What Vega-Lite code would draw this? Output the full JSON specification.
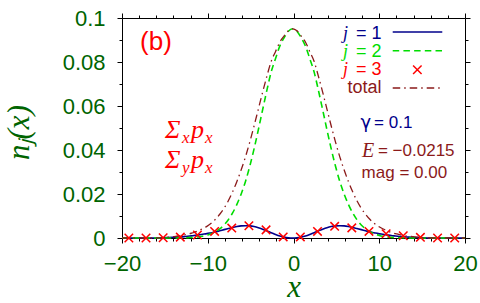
{
  "$schema": "https://vega.github.io/schema/vega-lite/v6.json",
  "autosize": {"type": "none"},
  "width": 343,
  "height": 220,
  "padding": {"left": 122, "top": 18, "right": 15, "bottom": 65},
  "background": "white",
  "config": {
    "view": {"stroke": null},
    "axis": {"grid": false, "domainColor": "black", "domainWidth": 1, "tickColor": "black", "tickWidth": 1, "labelFont": "Liberation Sans", "labelFontSize": 22, "labelColor": "#006400", "labelFlush": false, "labelOverlap": false}
  },
  "datasets": {
    "curves": [
      {"x": -20, "j1": 0, "j2": 0, "tot": 0},
      {"x": -16.1, "j1": 0, "j2": 0, "tot": 0},
      {"x": -15.6, "j1": 0.00005, "j2": 0, "tot": 0.0001},
      {"x": -15.1, "j1": 0.0001, "j2": 0, "tot": 0.0002},
      {"x": -14.6, "j1": 0.0002, "j2": 0, "tot": 0.0004},
      {"x": -14.1, "j1": 0.0003, "j2": 0, "tot": 0.0006},
      {"x": -13.6, "j1": 0.0004, "j2": 0, "tot": 0.0008},
      {"x": -13.1, "j1": 0.0005, "j2": 0.0001, "tot": 0.0011},
      {"x": -12.6, "j1": 0.0007, "j2": 0.0001, "tot": 0.0015},
      {"x": -12.1, "j1": 0.0009, "j2": 0.0002, "tot": 0.002},
      {"x": -11.6, "j1": 0.0011, "j2": 0.0003, "tot": 0.0025},
      {"x": -11.1, "j1": 0.0014, "j2": 0.0005, "tot": 0.0033},
      {"x": -10.6, "j1": 0.0017, "j2": 0.0008, "tot": 0.0042},
      {"x": -10.1, "j1": 0.002, "j2": 0.0013, "tot": 0.0053},
      {"x": -9.6, "j1": 0.0024, "j2": 0.0019, "tot": 0.0067},
      {"x": -9.1, "j1": 0.0028, "j2": 0.0029, "tot": 0.0085},
      {"x": -8.6, "j1": 0.0033, "j2": 0.0042, "tot": 0.0108},
      {"x": -8.1, "j1": 0.0038, "j2": 0.0059, "tot": 0.0135},
      {"x": -7.6, "j1": 0.0043, "j2": 0.0083, "tot": 0.0169},
      {"x": -7.1, "j1": 0.0048, "j2": 0.0114, "tot": 0.021},
      {"x": -6.6, "j1": 0.0052, "j2": 0.0153, "tot": 0.0257},
      {"x": -6.1, "j1": 0.0055, "j2": 0.02, "tot": 0.031},
      {"x": -5.6, "j1": 0.0056, "j2": 0.0257, "tot": 0.0369},
      {"x": -5.1, "j1": 0.0055, "j2": 0.0326, "tot": 0.0436},
      {"x": -4.6, "j1": 0.0052, "j2": 0.0405, "tot": 0.0509},
      {"x": -4.1, "j1": 0.0047, "j2": 0.0492, "tot": 0.0586},
      {"x": -3.6, "j1": 0.004, "j2": 0.0583, "tot": 0.0663},
      {"x": -3.1, "j1": 0.0032, "j2": 0.0672, "tot": 0.0736},
      {"x": -2.6, "j1": 0.0024, "j2": 0.0755, "tot": 0.0803},
      {"x": -2.1, "j1": 0.0016, "j2": 0.0815, "tot": 0.0847},
      {"x": -1.6, "j1": 0.0009, "j2": 0.0872, "tot": 0.089},
      {"x": -1.1, "j1": 0.0004, "j2": 0.091, "tot": 0.0918},
      {"x": -0.6, "j1": 0.0001, "j2": 0.094, "tot": 0.0942},
      {"x": -0.1, "j1": 0, "j2": 0.0951, "tot": 0.0951},
      {"x": 0.4, "j1": 0.0001, "j2": 0.094, "tot": 0.0942},
      {"x": 0.9, "j1": 0.0004, "j2": 0.091, "tot": 0.0918},
      {"x": 1.4, "j1": 0.0009, "j2": 0.0872, "tot": 0.089},
      {"x": 1.9, "j1": 0.0016, "j2": 0.0815, "tot": 0.0847},
      {"x": 2.4, "j1": 0.0024, "j2": 0.0755, "tot": 0.0803},
      {"x": 2.9, "j1": 0.0032, "j2": 0.0672, "tot": 0.0736},
      {"x": 3.4, "j1": 0.004, "j2": 0.0583, "tot": 0.0663},
      {"x": 3.9, "j1": 0.0047, "j2": 0.0492, "tot": 0.0586},
      {"x": 4.4, "j1": 0.0052, "j2": 0.0405, "tot": 0.0509},
      {"x": 4.9, "j1": 0.0055, "j2": 0.0326, "tot": 0.0436},
      {"x": 5.4, "j1": 0.0056, "j2": 0.0257, "tot": 0.0369},
      {"x": 5.9, "j1": 0.0055, "j2": 0.02, "tot": 0.031},
      {"x": 6.4, "j1": 0.0052, "j2": 0.0153, "tot": 0.0257},
      {"x": 6.9, "j1": 0.0048, "j2": 0.0114, "tot": 0.021},
      {"x": 7.4, "j1": 0.0043, "j2": 0.0083, "tot": 0.0169},
      {"x": 7.9, "j1": 0.0038, "j2": 0.0059, "tot": 0.0135},
      {"x": 8.4, "j1": 0.0033, "j2": 0.0042, "tot": 0.0108},
      {"x": 8.9, "j1": 0.0028, "j2": 0.0029, "tot": 0.0085},
      {"x": 9.4, "j1": 0.0024, "j2": 0.0019, "tot": 0.0067},
      {"x": 9.9, "j1": 0.002, "j2": 0.0013, "tot": 0.0053},
      {"x": 10.4, "j1": 0.0017, "j2": 0.0008, "tot": 0.0042},
      {"x": 10.9, "j1": 0.0014, "j2": 0.0005, "tot": 0.0033},
      {"x": 11.4, "j1": 0.0011, "j2": 0.0003, "tot": 0.0025},
      {"x": 11.9, "j1": 0.0009, "j2": 0.0002, "tot": 0.002},
      {"x": 12.4, "j1": 0.0007, "j2": 0.0001, "tot": 0.0015},
      {"x": 12.9, "j1": 0.0005, "j2": 0.0001, "tot": 0.0011},
      {"x": 13.4, "j1": 0.0004, "j2": 0, "tot": 0.0008},
      {"x": 13.9, "j1": 0.0003, "j2": 0, "tot": 0.0006},
      {"x": 14.4, "j1": 0.0002, "j2": 0, "tot": 0.0004},
      {"x": 14.9, "j1": 0.0001, "j2": 0, "tot": 0.0002},
      {"x": 15.4, "j1": 0.00005, "j2": 0, "tot": 0.0001},
      {"x": 15.9, "j1": 0, "j2": 0, "tot": 0},
      {"x": 20, "j1": 0, "j2": 0, "tot": 0}
    ],
    "crosses": [
      {"x": -19.2, "n": 0}, {"x": -17.2, "n": 0}, {"x": -15.2, "n": 0.0001}, {"x": -13.2, "n": 0.0004},
      {"x": -11.2, "n": 0.0014}, {"x": -9.2, "n": 0.003}, {"x": -7.2, "n": 0.0045}, {"x": -5.2, "n": 0.0056},
      {"x": -3.2, "n": 0.0037}, {"x": -1.2, "n": 0.0005}, {"x": 0.8, "n": 0.0005}, {"x": 2.8, "n": 0.003},
      {"x": 4.8, "n": 0.0053}, {"x": 6.8, "n": 0.0046}, {"x": 8.8, "n": 0.003}, {"x": 10.8, "n": 0.0019},
      {"x": 12.8, "n": 0.001}, {"x": 14.8, "n": 0.0003}, {"x": 16.8, "n": 0}, {"x": 18.8, "n": 0}
    ]
  },
  "layer": [
    {
      "data": {"name": "curves"},
      "mark": {"type": "line", "color": "#00008b", "strokeWidth": 1.6, "interpolate": "monotone"},
      "encoding": {
        "x": {"field": "x", "type": "quantitative", "scale": {"domain": [-20, 20], "nice": false, "zero": false},
          "axis": {"orient": "bottom", "values": [-20,-18,-16,-14,-12,-10,-8,-6,-4,-2,0,2,4,6,8,10,12,14,16,18,20],
            "labelExpr": "datum.value % 10 === 0 ? datum.label : ''",
            "tickDash": {"condition": {"test": "datum.value % 10 === 0", "value": [10, 0]}, "value": [3, 20]},
            "tickSize": 5, "labelPadding": 10,
            "title": "x", "titleFont": "Liberation Serif", "titleFontStyle": "italic", "titleFontWeight": "normal", "titleFontSize": 31, "titleColor": "#006400",
            "titleX": 171.5, "titleY": 58.5, "titleBaseline": "alphabetic", "titleAlign": "center"}},
        "y": {"field": "j1", "type": "quantitative", "scale": {"domain": [0, 0.1], "nice": false, "zero": false},
          "axis": {"orient": "left", "values": [0,0.01,0.02,0.03,0.04,0.05,0.06,0.07,0.08,0.09,0.1], "format": ".2~f",
            "labelExpr": "round(datum.value*100) % 2 === 0 ? datum.label : ''",
            "tickDash": {"condition": {"test": "round(datum.value*100) % 2 === 0", "value": [10, 0]}, "value": [3, 20]},
            "tickSize": 5, "labelPadding": 12,
            "title": "nⱼ(x)", "titleFont": "Liberation Serif", "titleFontStyle": "italic", "titleFontWeight": "normal", "titleFontSize": 31, "titleColor": "#006400",
            "titleAngle": -90, "titleX": -94, "titleY": 114, "titleBaseline": "alphabetic", "titleAlign": "center"}}
      }
    },
    {
      "data": {"name": "curves"},
      "mark": {"type": "line", "color": "#00dd00", "strokeWidth": 1.6, "strokeDash": [6.5, 4.2], "interpolate": "monotone"},
      "encoding": {
        "x": {"field": "x", "type": "quantitative", "scale": {"domain": [-20, 20], "nice": false, "zero": false},
          "axis": {"orient": "top", "values": [-20,-18,-16,-14,-12,-10,-8,-6,-4,-2,0,2,4,6,8,10,12,14,16,18,20], "labels": false,
            "tickDash": {"condition": {"test": "datum.value % 10 === 0", "value": [10, 0]}, "value": [3, 20]},
            "tickSize": 5, "title": null}},
        "y": {"field": "j2", "type": "quantitative", "scale": {"domain": [0, 0.1], "nice": false, "zero": false},
          "axis": {"orient": "right", "values": [0,0.01,0.02,0.03,0.04,0.05,0.06,0.07,0.08,0.09,0.1], "labels": false,
            "tickDash": {"condition": {"test": "round(datum.value*100) % 2 === 0", "value": [10, 0]}, "value": [3, 20]},
            "tickSize": 5, "title": null}}
      }
    },
    {
      "data": {"name": "curves"},
      "mark": {"type": "line", "color": "#8b1a1a", "strokeWidth": 1.3, "strokeDash": [7.5, 4, 1.5, 4], "interpolate": "monotone"},
      "encoding": {
        "x": {"field": "x", "type": "quantitative", "scale": {"domain": [-20, 20], "nice": false, "zero": false}, "axis": null},
        "y": {"field": "tot", "type": "quantitative", "scale": {"domain": [0, 0.1], "nice": false, "zero": false}, "axis": null}
      }
    },
    {
      "data": {"name": "crosses"},
      "mark": {"type": "point", "shape": "M-1,-1L1,1M-1,1L1,-1", "filled": false, "color": "#ff0000", "strokeWidth": 1.5, "size": 72, "opacity": 1},
      "encoding": {
        "x": {"field": "x", "type": "quantitative", "scale": {"domain": [-20, 20], "nice": false, "zero": false}, "axis": null},
        "y": {"field": "n", "type": "quantitative", "scale": {"domain": [0, 0.1], "nice": false, "zero": false}, "axis": null}
      }
    },
    {
      "data": {"values": [{}]},
      "mark": {"type": "rule", "color": "#00008b", "strokeWidth": 1.6},
      "encoding": {
        "x": {"datum": 11.57, "type": "quantitative", "scale": {"domain": [-20, 20], "nice": false, "zero": false}, "axis": null},
        "x2": {"datum": 17.35},
        "y": {"datum": 0.09364, "type": "quantitative", "scale": {"domain": [0, 0.1], "nice": false, "zero": false}, "axis": null}
      }
    },
    {
      "data": {"values": [{}]},
      "mark": {"type": "rule", "color": "#00dd00", "strokeWidth": 1.6, "strokeDash": [6.5, 4.2]},
      "encoding": {
        "x": {"datum": 11.57, "type": "quantitative", "scale": {"domain": [-20, 20], "nice": false, "zero": false}, "axis": null},
        "x2": {"datum": 17.35},
        "y": {"datum": 0.08514, "type": "quantitative", "scale": {"domain": [0, 0.1], "nice": false, "zero": false}, "axis": null}
      }
    },
    {
      "data": {"values": [{}]},
      "mark": {"type": "point", "shape": "M-1,-1L1,1M-1,1L1,-1", "filled": false, "color": "#ff0000", "strokeWidth": 1.5, "size": 72, "opacity": 1},
      "encoding": {
        "x": {"datum": 14.44, "type": "quantitative", "scale": {"domain": [-20, 20], "nice": false, "zero": false}, "axis": null},
        "y": {"datum": 0.0765, "type": "quantitative", "scale": {"domain": [0, 0.1], "nice": false, "zero": false}, "axis": null}
      }
    },
    {
      "data": {"values": [{}]},
      "mark": {"type": "rule", "color": "#8b1a1a", "strokeWidth": 1.3, "strokeDash": [7.5, 4, 1.5, 4]},
      "encoding": {
        "x": {"datum": 11.57, "type": "quantitative", "scale": {"domain": [-20, 20], "nice": false, "zero": false}, "axis": null},
        "x2": {"datum": 17.35},
        "y": {"datum": 0.06818, "type": "quantitative", "scale": {"domain": [0, 0.1], "nice": false, "zero": false}, "axis": null}
      }
    },
    {
      "data": {"values": [{}]},
      "mark": {"type": "text", "text": "(b)", "font": "Liberation Sans", "fontSize": 26, "color": "#ff0000", "align": "left", "baseline": "middle"},
      "encoding": {
        "x": {"datum": -17.9, "type": "quantitative", "scale": {"domain": [-20, 20], "nice": false, "zero": false}, "axis": null},
        "y": {"datum": 0.0892, "type": "quantitative", "scale": {"domain": [0, 0.1], "nice": false, "zero": false}, "axis": null}
      }
    },
    {
      "data": {"values": [{}]},
      "mark": {"type": "text", "text": "Σ", "font": "Liberation Serif", "fontStyle": "italic", "fontSize": 26, "color": "#ff0000", "align": "left", "baseline": "alphabetic"},
      "encoding": {
        "x": {"datum": -14.99, "type": "quantitative", "scale": {"domain": [-20, 20], "nice": false, "zero": false}, "axis": null},
        "y": {"datum": 0.04545, "type": "quantitative", "scale": {"domain": [0, 0.1], "nice": false, "zero": false}, "axis": null}
      }
    },
    {
      "data": {"values": [{}]},
      "mark": {"type": "text", "text": "x", "font": "Liberation Serif", "fontStyle": "italic", "fontSize": 17, "color": "#ff0000", "align": "left", "baseline": "alphabetic"},
      "encoding": {
        "x": {"datum": -13.0, "type": "quantitative", "scale": {"domain": [-20, 20], "nice": false, "zero": false}, "axis": null},
        "y": {"datum": 0.0431, "type": "quantitative", "scale": {"domain": [0, 0.1], "nice": false, "zero": false}, "axis": null}
      }
    },
    {
      "data": {"values": [{}]},
      "mark": {"type": "text", "text": "p", "font": "Liberation Serif", "fontStyle": "italic", "fontSize": 26, "color": "#ff0000", "align": "left", "baseline": "alphabetic"},
      "encoding": {
        "x": {"datum": -11.95, "type": "quantitative", "scale": {"domain": [-20, 20], "nice": false, "zero": false}, "axis": null},
        "y": {"datum": 0.04545, "type": "quantitative", "scale": {"domain": [0, 0.1], "nice": false, "zero": false}, "axis": null}
      }
    },
    {
      "data": {"values": [{}]},
      "mark": {"type": "text", "text": "x", "font": "Liberation Serif", "fontStyle": "italic", "fontSize": 17, "color": "#ff0000", "align": "left", "baseline": "alphabetic"},
      "encoding": {
        "x": {"datum": -10.32, "type": "quantitative", "scale": {"domain": [-20, 20], "nice": false, "zero": false}, "axis": null},
        "y": {"datum": 0.0431, "type": "quantitative", "scale": {"domain": [0, 0.1], "nice": false, "zero": false}, "axis": null}
      }
    },
    {
      "data": {"values": [{}]},
      "mark": {"type": "text", "text": "Σ", "font": "Liberation Serif", "fontStyle": "italic", "fontSize": 26, "color": "#ff0000", "align": "left", "baseline": "alphabetic"},
      "encoding": {
        "x": {"datum": -14.99, "type": "quantitative", "scale": {"domain": [-20, 20], "nice": false, "zero": false}, "axis": null},
        "y": {"datum": 0.0317, "type": "quantitative", "scale": {"domain": [0, 0.1], "nice": false, "zero": false}, "axis": null}
      }
    },
    {
      "data": {"values": [{}]},
      "mark": {"type": "text", "text": "y", "font": "Liberation Serif", "fontStyle": "italic", "fontSize": 17, "color": "#ff0000", "align": "left", "baseline": "alphabetic"},
      "encoding": {
        "x": {"datum": -13.0, "type": "quantitative", "scale": {"domain": [-20, 20], "nice": false, "zero": false}, "axis": null},
        "y": {"datum": 0.02945, "type": "quantitative", "scale": {"domain": [0, 0.1], "nice": false, "zero": false}, "axis": null}
      }
    },
    {
      "data": {"values": [{}]},
      "mark": {"type": "text", "text": "p", "font": "Liberation Serif", "fontStyle": "italic", "fontSize": 26, "color": "#ff0000", "align": "left", "baseline": "alphabetic"},
      "encoding": {
        "x": {"datum": -11.95, "type": "quantitative", "scale": {"domain": [-20, 20], "nice": false, "zero": false}, "axis": null},
        "y": {"datum": 0.0317, "type": "quantitative", "scale": {"domain": [0, 0.1], "nice": false, "zero": false}, "axis": null}
      }
    },
    {
      "data": {"values": [{}]},
      "mark": {"type": "text", "text": "x", "font": "Liberation Serif", "fontStyle": "italic", "fontSize": 17, "color": "#ff0000", "align": "left", "baseline": "alphabetic"},
      "encoding": {
        "x": {"datum": -10.32, "type": "quantitative", "scale": {"domain": [-20, 20], "nice": false, "zero": false}, "axis": null},
        "y": {"datum": 0.02945, "type": "quantitative", "scale": {"domain": [0, 0.1], "nice": false, "zero": false}, "axis": null}
      }
    },
    {
      "data": {"values": [{}]},
      "mark": {"type": "text", "text": "j", "font": "Liberation Serif", "fontStyle": "italic", "fontSize": 18, "color": "#00008b", "align": "left", "baseline": "middle"},
      "encoding": {
        "x": {"datum": 5.77, "type": "quantitative", "scale": {"domain": [-20, 20], "nice": false, "zero": false}, "axis": null},
        "y": {"datum": 0.0929, "type": "quantitative", "scale": {"domain": [0, 0.1], "nice": false, "zero": false}, "axis": null}
      }
    },
    {
      "data": {"values": [{}]},
      "mark": {"type": "text", "text": "= 1", "font": "Liberation Sans", "fontSize": 18, "color": "#00008b", "align": "right", "baseline": "middle"},
      "encoding": {
        "x": {"datum": 10.26, "type": "quantitative", "scale": {"domain": [-20, 20], "nice": false, "zero": false}, "axis": null},
        "y": {"datum": 0.0929, "type": "quantitative", "scale": {"domain": [0, 0.1], "nice": false, "zero": false}, "axis": null}
      }
    },
    {
      "data": {"values": [{}]},
      "mark": {"type": "text", "text": "j", "font": "Liberation Serif", "fontStyle": "italic", "fontSize": 18, "color": "#00dd00", "align": "left", "baseline": "middle"},
      "encoding": {
        "x": {"datum": 5.77, "type": "quantitative", "scale": {"domain": [-20, 20], "nice": false, "zero": false}, "axis": null},
        "y": {"datum": 0.08455, "type": "quantitative", "scale": {"domain": [0, 0.1], "nice": false, "zero": false}, "axis": null}
      }
    },
    {
      "data": {"values": [{}]},
      "mark": {"type": "text", "text": "= 2", "font": "Liberation Sans", "fontSize": 18, "color": "#00dd00", "align": "right", "baseline": "middle"},
      "encoding": {
        "x": {"datum": 10.26, "type": "quantitative", "scale": {"domain": [-20, 20], "nice": false, "zero": false}, "axis": null},
        "y": {"datum": 0.08455, "type": "quantitative", "scale": {"domain": [0, 0.1], "nice": false, "zero": false}, "axis": null}
      }
    },
    {
      "data": {"values": [{}]},
      "mark": {"type": "text", "text": "j", "font": "Liberation Serif", "fontStyle": "italic", "fontSize": 18, "color": "#ff0000", "align": "left", "baseline": "middle"},
      "encoding": {
        "x": {"datum": 5.77, "type": "quantitative", "scale": {"domain": [-20, 20], "nice": false, "zero": false}, "axis": null},
        "y": {"datum": 0.07618, "type": "quantitative", "scale": {"domain": [0, 0.1], "nice": false, "zero": false}, "axis": null}
      }
    },
    {
      "data": {"values": [{}]},
      "mark": {"type": "text", "text": "= 3", "font": "Liberation Sans", "fontSize": 18, "color": "#ff0000", "align": "right", "baseline": "middle"},
      "encoding": {
        "x": {"datum": 10.26, "type": "quantitative", "scale": {"domain": [-20, 20], "nice": false, "zero": false}, "axis": null},
        "y": {"datum": 0.07618, "type": "quantitative", "scale": {"domain": [0, 0.1], "nice": false, "zero": false}, "axis": null}
      }
    },
    {
      "data": {"values": [{}]},
      "mark": {"type": "text", "text": "total", "font": "Liberation Sans", "fontSize": 18, "color": "#8b1a1a", "align": "right", "baseline": "middle"},
      "encoding": {
        "x": {"datum": 10.26, "type": "quantitative", "scale": {"domain": [-20, 20], "nice": false, "zero": false}, "axis": null},
        "y": {"datum": 0.0682, "type": "quantitative", "scale": {"domain": [0, 0.1], "nice": false, "zero": false}, "axis": null}
      }
    },
    {
      "data": {"values": [{}]},
      "mark": {"type": "text", "text": "γ", "font": "DejaVu Sans", "fontSize": 18, "color": "#00008b", "align": "left", "baseline": "middle"},
      "encoding": {
        "x": {"datum": 7.81, "type": "quantitative", "scale": {"domain": [-20, 20], "nice": false, "zero": false}, "axis": null},
        "y": {"datum": 0.0524, "type": "quantitative", "scale": {"domain": [0, 0.1], "nice": false, "zero": false}, "axis": null}
      }
    },
    {
      "data": {"values": [{}]},
      "mark": {"type": "text", "text": "= 0.1", "font": "Liberation Sans", "fontSize": 17, "color": "#00008b", "align": "left", "baseline": "middle"},
      "encoding": {
        "x": {"datum": 9.4, "type": "quantitative", "scale": {"domain": [-20, 20], "nice": false, "zero": false}, "axis": null},
        "y": {"datum": 0.0524, "type": "quantitative", "scale": {"domain": [0, 0.1], "nice": false, "zero": false}, "axis": null}
      }
    },
    {
      "data": {"values": [{}]},
      "mark": {"type": "text", "text": "E", "font": "Liberation Serif", "fontStyle": "italic", "fontSize": 20, "color": "#8b1a1a", "align": "left", "baseline": "middle"},
      "encoding": {
        "x": {"datum": 7.99, "type": "quantitative", "scale": {"domain": [-20, 20], "nice": false, "zero": false}, "axis": null},
        "y": {"datum": 0.0397, "type": "quantitative", "scale": {"domain": [0, 0.1], "nice": false, "zero": false}, "axis": null}
      }
    },
    {
      "data": {"values": [{}]},
      "mark": {"type": "text", "text": "= −0.0215", "font": "Liberation Sans", "fontSize": 17, "color": "#8b1a1a", "align": "left", "baseline": "middle"},
      "encoding": {
        "x": {"datum": 9.85, "type": "quantitative", "scale": {"domain": [-20, 20], "nice": false, "zero": false}, "axis": null},
        "y": {"datum": 0.0397, "type": "quantitative", "scale": {"domain": [0, 0.1], "nice": false, "zero": false}, "axis": null}
      }
    },
    {
      "data": {"values": [{}]},
      "mark": {"type": "text", "text": "mag = 0.00", "font": "Liberation Sans", "fontSize": 17, "color": "#8b1a1a", "align": "left", "baseline": "middle"},
      "encoding": {
        "x": {"datum": 7.94, "type": "quantitative", "scale": {"domain": [-20, 20], "nice": false, "zero": false}, "axis": null},
        "y": {"datum": 0.02955, "type": "quantitative", "scale": {"domain": [0, 0.1], "nice": false, "zero": false}, "axis": null}
      }
    }
  ]
}
